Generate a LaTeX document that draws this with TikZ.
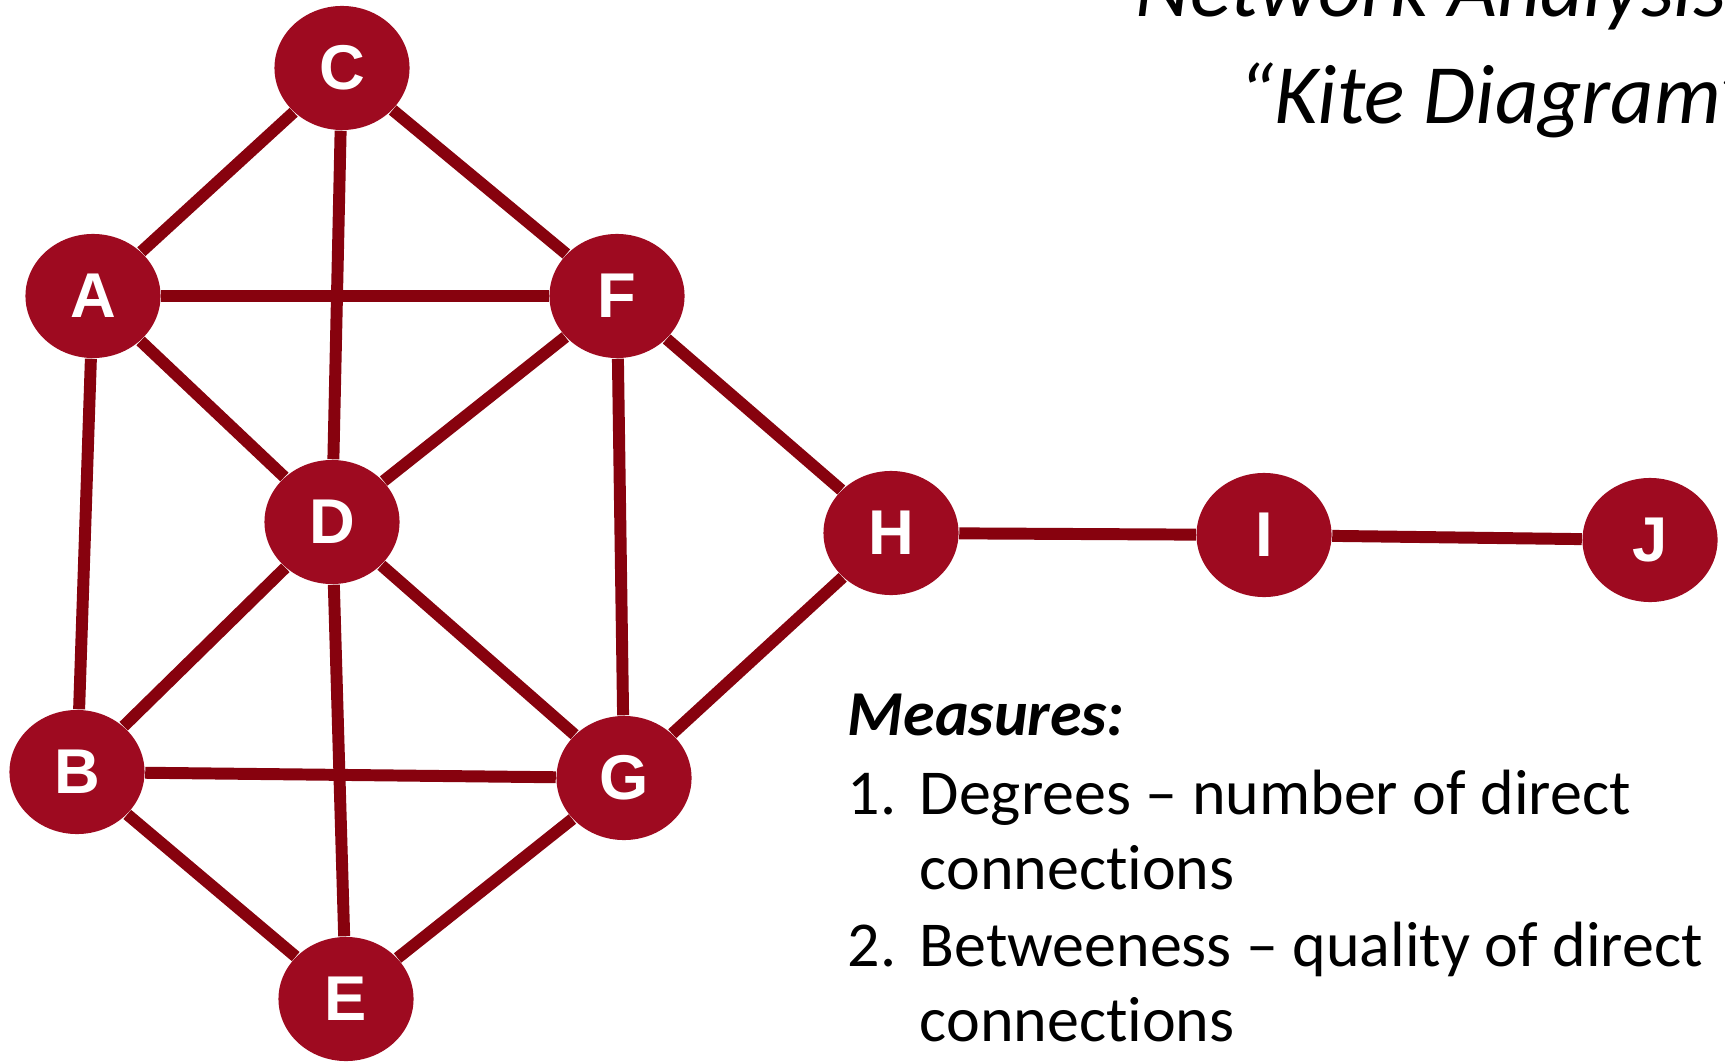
\documentclass[tikz,border=0pt]{standalone}
\usepackage{fontspec}
\setmainfont{Carlito}[Ligatures=NoCommon]
\newfontfamily\labelfont{Liberation Sans}
\usetikzlibrary{shapes.geometric}
\definecolor{kitered}{RGB}{158,10,32}
\definecolor{kiteline}{RGB}{135,2,14}
\tikzset{
  vertex/.style={ellipse,fill=kitered,text=white,inner sep=0pt,
    minimum width=1.35cm,minimum height=1.24cm,
    font=\labelfont\bfseries\fontsize{18pt}{18pt}\selectfont},
  link/.style={draw=kiteline,line width=3.4pt},
  txt/.style={anchor=base west,inner sep=0pt,font=\fontsize{18.2pt}{22pt}\selectfont},
  ttl/.style={anchor=base west,inner sep=0pt,font=\itshape\fontsize{24pt}{28pt}\selectfont}
}
\begin{document}
\begin{tikzpicture}[x=0.01cm,y=-0.01cm]
\useasboundingbox (0,0) rectangle (1725,1061);
\clip (0,0) rectangle (1725,1061);
\fill[white] (0,0) rectangle (1725,1061);
% title
\node (t1) at (1135,17) [ttl] {Network Analysis};
\node (t2) at (1238,124) [ttl] {“Kite Diagram”};
% the kite
\node (c) at (342,68) [vertex] {C};
\node (a) at (93,296) [vertex] {A};
\node (f) at (617,296) [vertex] {F};
\node (d) at (332,522) [vertex] {D};
\node (h) at (891,533) [vertex] {H};
\node (i) at (1264,535) [vertex] {I};
\node (j) at (1650,540) [vertex] {J};
\node (b) at (77,772) [vertex] {B};
\node (g) at (624,778) [vertex] {G};
\node (e) at (346,999) [vertex] {E};
\draw[link] (a) -- (c) -- (f) -- (a) -- (b) -- (e) -- (g) -- (h) -- (f) -- (g) -- (b);
\draw[link] (c) -- (d) -- (e);
\draw[link] (a) -- (d) -- (f);
\draw[link] (b) -- (d) -- (g);
\draw[link] (h) -- (i) -- (j);
% measures
\node (m0) at (847,735) [txt] {\bfseries\itshape Measures:};
\node (n1) at (847,814) [txt] {1.};
\node (l1) at (919,814) [txt] {Degrees – number of direct};
\node (l1b) at (919,889) [txt] {connections};
\node (n2) at (847,966) [txt] {2.};
\node (l2) at (919,966) [txt] {Betweeness – quality of direct};
\node (l2b) at (919,1041) [txt] {connections};
\end{tikzpicture}
\end{document}
